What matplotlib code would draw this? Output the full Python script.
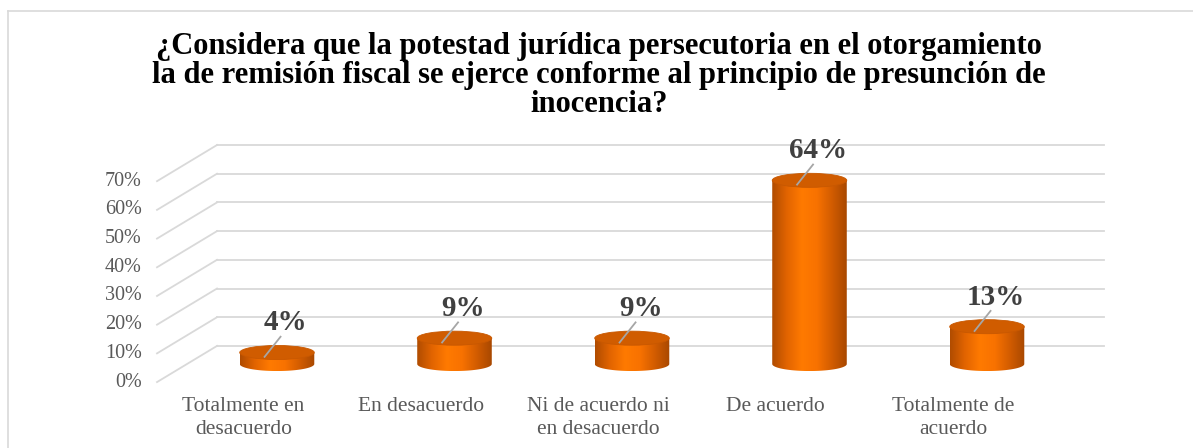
import numpy as np
import matplotlib.pyplot as plt
from matplotlib.patches import Ellipse, PathPatch
from matplotlib.path import Path
from matplotlib.lines import Line2D
from matplotlib.colors import LinearSegmentedColormap

plt.rcParams['font.family'] = ['Liberation Serif', 'DejaVu Serif']

# data
categories = ["Totalmente en\ndesacuerdo", "En desacuerdo", "Ni de acuerdo ni\nen desacuerdo",
              "De acuerdo", "Totalmente de\nacuerdo"]
values = [4, 9, 9, 64, 13]
ticks = [0, 10, 20, 30, 40, 50, 60, 70]
title = ("¿Considera que la potestad jurídica persecutoria en el otorgamiento\n"
         "la de remisión fiscal se ejerce conforme al principio de presunción de\n"
         "inocencia?")

W, H = 1193, 448
# pixel mapping of the pseudo-3d scene
X0_PX, PX_UNIT = 277, 177.5
Y0_PX, PX_PCT = 364, 2.87
DEPTH = 6.3          # half depth of the floor, in % units
WALL_L, FRONT_L, WALL_R = -0.338, -0.676, 4.66
BAR_W = 0.42
ELL_H = 4.9

fig = plt.figure(figsize=(W / 100, H / 100), dpi=100)
ax = fig.add_axes([0, 0, 1, 1])
ax.axis('off')

# frame (only left/top visible in the crop)
fig.add_artist(Line2D([8 / W, 8 / W], [0, 1 - 11 / H], color='#D9D9D9', lw=1.2))
fig.add_artist(Line2D([8 / W, 1], [1 - 11 / H, 1 - 11 / H], color='#D9D9D9', lw=1.2))

grid_c = '#D9D9D9'
for t in ticks:
    ax.plot([WALL_L, WALL_R], [t + DEPTH, t + DEPTH], color=grid_c, lw=1.3, zorder=1)
    ax.plot([FRONT_L, WALL_L], [t - DEPTH, t + DEPTH], color=grid_c, lw=1.3, zorder=1)
    ax.text(FRONT_L - 0.085, t - DEPTH, f"{t}%", ha='right', va='center',
            fontsize=14.5, color='#595959')

for i, c in enumerate(categories):
    ax.text(i - 0.19, -DEPTH - 5.3, c, ha='center', va='top', fontsize=15.5,
            color='#595959', linespacing=1.25)

cmap = LinearSegmentedColormap.from_list(
    'cyl', ['#B04C00', '#E26400', '#FF7A00', '#F87200', '#D25C00', '#A84800'])
grad = np.linspace(0, 1, 256).reshape(1, -1)

for i, v in enumerate(values):
    x0, x1 = i - BAR_W / 2, i + BAR_W / 2
    th = np.linspace(np.pi, 2 * np.pi, 60)
    bx = i + BAR_W / 2 * np.cos(th)
    by = ELL_H / 2 * np.sin(th)
    verts = list(zip(bx, by)) + [(x1, v), (x0, v), (x0, 0)]
    body = PathPatch(Path(verts), facecolor='none', edgecolor='none', zorder=3)
    ax.add_patch(body)
    im = ax.imshow(grad, cmap=cmap, aspect='auto', extent=[x0, x1, -ELL_H / 2, v],
                   zorder=3, interpolation='bilinear')
    im.set_clip_path(body)
    ax.add_patch(Ellipse((i, v), BAR_W, ELL_H, facecolor='#D05C00',
                         edgecolor='#C85800', lw=0.6, zorder=4))
    ax.plot([i + 0.02, i - 0.07], [v + 5.5, v - 1.5], color='#A6A6A6', lw=1.3, zorder=5)
    ax.text(i + 0.05, v + 10.3, f"{v}%", ha='center', va='center', fontsize=21,
            fontweight='bold', color='#404040', zorder=6)

ax.set_xlim(-X0_PX / PX_UNIT, (W - X0_PX) / PX_UNIT)
ax.set_ylim((Y0_PX - H) / PX_PCT, Y0_PX / PX_PCT)

fig.text(599 / W, 1 - 32 / H, title, ha='center', va='top', fontsize=22,
         fontweight='bold', color='black', linespacing=1.0)

fig.savefig('out.png', dpi=100)
